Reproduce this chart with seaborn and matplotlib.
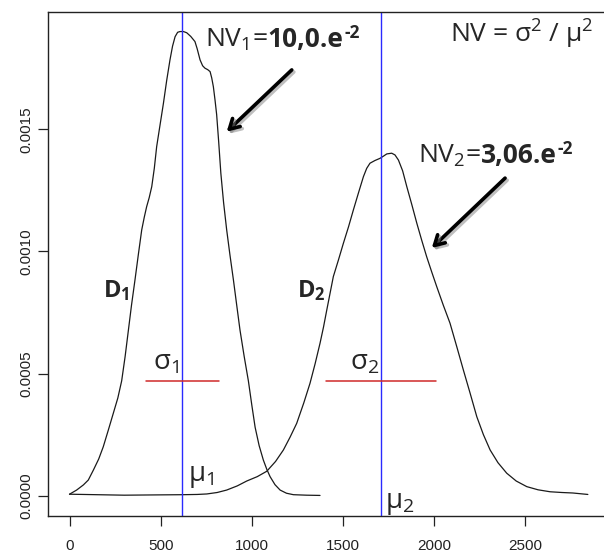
import numpy as np
import pandas as pd
import matplotlib
matplotlib.use("Agg")
import matplotlib.pyplot as plt
import matplotlib.patheffects as pe
import seaborn as sns

# ---- data ----
d1_x = [0, 39, 76, 103, 131, 160, 185, 213, 240, 265, 286, 305, 323, 340, 359, 378, 396, 410,
        423, 437, 451, 465, 478, 497, 515, 533, 551, 565, 579, 593, 606, 625, 643, 665, 688, 700,
        716, 730, 743, 758, 771, 780, 789, 798, 807, 818, 830, 845, 862, 880, 899, 917, 935, 958,
        981, 1000, 1018, 1040, 1063, 1082, 1100, 1127, 1155, 1190, 1228, 1300, 1374]
d1_y = [0.000006, 0.000023, 0.000044, 0.000064, 0.000105, 0.000150, 0.000200, 0.000269, 0.000337,
        0.000400, 0.000470, 0.000570, 0.000678, 0.000780, 0.000883, 0.000990, 0.001088, 0.001140,
        0.001183, 0.001220, 0.001265, 0.001340, 0.001429, 0.001520, 0.001606, 0.001700, 0.001784,
        0.001840, 0.001879, 0.001897, 0.001900, 0.001900, 0.001895, 0.001880, 0.001859, 0.001830,
        0.001784, 0.001760, 0.001750, 0.001744, 0.001736, 0.001710, 0.001674, 0.001620, 0.001560,
        0.001450, 0.001320, 0.001200, 0.001088, 0.000985, 0.000883, 0.000780, 0.000678, 0.000570,
        0.000470, 0.000370, 0.000280, 0.000205, 0.000146, 0.000108, 0.000078, 0.000045, 0.000023,
        0.000010, 0.000004, 0.000002, 0.000001]
d2_x = [0, 150, 300, 450, 620, 700, 753, 810, 862, 920, 972, 1030, 1082, 1130, 1173, 1210, 1246,
        1285, 1319, 1347, 1374, 1393, 1411, 1447, 1475, 1502, 1530, 1557, 1585, 1612, 1630, 1648,
        1675, 1703, 1722, 1740, 1767, 1785, 1804, 1827, 1850, 1878, 1905, 1932, 1959, 1987, 2014,
        2050, 2087, 2124, 2160, 2197, 2234, 2270, 2307, 2350, 2398, 2450, 2508, 2570, 2636, 2700,
        2760, 2843]
d2_y = [0.000006, 0.000004, 0.000002, 0.000003, 0.000004, 0.000005, 0.000007, 0.000013, 0.000023,
        0.000040, 0.000060, 0.000078, 0.000100, 0.000140, 0.000187, 0.000240, 0.000296, 0.000380,
        0.000460, 0.000540, 0.000624, 0.000690, 0.000760, 0.000897, 0.000965, 0.001033, 0.001100,
        0.001170, 0.001240, 0.001306, 0.001340, 0.001361, 0.001372, 0.001381, 0.001390, 0.001399,
        0.001402, 0.001395, 0.001374, 0.001330, 0.001265, 0.001190, 0.001115, 0.001045, 0.000978,
        0.000915, 0.000856, 0.000780, 0.000706, 0.000610, 0.000515, 0.000420, 0.000323, 0.000250,
        0.000187, 0.000135, 0.000092, 0.000060, 0.000037, 0.000024, 0.000016, 0.000013, 0.000011,
        0.000005]

means = [619, 1709]
sigmas = [200, 300]
sigma_level = 0.00047
nv_values = ["10,0.e", "3,06.e"]
nv_exponent = "-2"
x_ticks = [0, 500, 1000, 1500, 2000, 2500]
y_ticks = [0.0, 0.0005, 0.0010, 0.0015]
y_tick_labels = ["0.0000", "0.0005", "0.0010", "0.0015"]

df = pd.DataFrame({
    "x": d1_x + d2_x,
    "y": d1_y + d2_y,
    "curve": ["D1"] * len(d1_x) + ["D2"] * len(d2_x),
})

sns.set_style("ticks")
plt.rcParams["font.family"] = ["Liberation Sans", "DejaVu Sans"]
plt.rcParams["mathtext.fontset"] = "custom"
plt.rcParams["mathtext.rm"] = "Open Sans"
plt.rcParams["mathtext.it"] = "Open Sans:italic"
plt.rcParams["mathtext.bf"] = "Open Sans:bold"
plt.rcParams["lines.solid_joinstyle"] = "round"

fig = plt.figure(figsize=(6.04, 5.52), dpi=100)
ax = fig.add_axes([0.079, 0.0658, 0.932, 0.912])

sns.lineplot(data=df, x="x", y="y", hue="curve", palette=["#1a1a1a", "#1a1a1a"],
             legend=False, sort=False, estimator=None, lw=0.9, ax=ax)

for m, s in zip(means, sigmas):
    ax.axvline(m, color="#2a2aff", lw=1.0)
    ax.plot([m - s, m + s], [sigma_level, sigma_level], color="#d02a2a", lw=1.1)

ax.set_xlim(-119.6, 2968)
ax.set_ylim(-8.19e-5, 0.001979)
ax.set_xticks(x_ticks)
ax.set_xticklabels([str(t) for t in x_ticks])
ax.set_yticks(y_ticks)
ax.set_yticklabels(y_tick_labels, rotation=90, va="center")
ax.tick_params(axis="both", labelsize=11, length=7, width=0.9, color="#222222", labelcolor="#222222")
ax.tick_params(axis="x", pad=10)
ax.tick_params(axis="y", pad=3)
ax.set_xlabel("")
ax.set_ylabel("")
for sp in ax.spines.values():
    sp.set_visible(True)
    sp.set_linewidth(1.0)
    sp.set_color("#222222")

tfam = ["Open Sans", "DejaVu Sans"]
fs_nv = 19

# formula
ax.text(2087, 0.001853, r"NV = σ$^2$ / μ$^2$", fontsize=fs_nv, family=tfam, va="baseline", ha="left")

# NV labels built from pieces (regular name, bold value, raised bold exponent)
fig.canvas.draw()
r = fig.canvas.get_renderer()
for idx, (x0, y0) in enumerate([(743, 0.001837), (1912, 0.001361)]):
    t1 = ax.text(x0, y0, "NV$_%d$=" % (idx + 1), fontsize=fs_nv, family=tfam,
                 va="baseline", ha="left")
    bb1 = t1.get_window_extent(r)
    xd, yd = ax.transData.transform((x0, y0))
    t2 = ax.text(bb1.x1, yd, nv_values[idx], fontsize=fs_nv, family=tfam, fontweight="bold",
                 va="baseline", ha="left", transform=None)
    bb2 = t2.get_window_extent(r)
    ax.text(bb2.x1 + 0.5, yd + 9, nv_exponent, fontsize=12.5, family=tfam, fontweight="bold",
            va="baseline", ha="left", transform=None)

shadow = [pe.SimpleLineShadow(offset=(1.5, -1.5), shadow_color="gray", alpha=0.5), pe.Normal()]
for start, tip in [((1219, 0.001743), (862, 0.00149)), ((2389, 0.0013), (1987, 0.001014))]:
    an = ax.annotate("", xy=tip, xytext=start,
                     arrowprops=dict(arrowstyle="->,head_length=0.7,head_width=0.4", lw=2.6,
                                     color="black", shrinkA=0, shrinkB=0))
    an.arrow_patch.set_path_effects(shadow)

# curve names
ax.text(184, 0.000814, r"$\mathbf{D_1}$", fontsize=17, va="baseline", ha="left")
ax.text(1248, 0.000814, r"$\mathbf{D_2}$", fontsize=17, va="baseline", ha="left")

# sigma / mu labels
ax.text(458, 0.000515, r"σ$_1$", fontsize=20, family=tfam, va="baseline", ha="left")
ax.text(1539, 0.000515, r"σ$_2$", fontsize=20, family=tfam, va="baseline", ha="left")
ax.text(650, 0.00006, r"μ$_1$", fontsize=20, family=tfam, va="baseline", ha="left")
ax.text(1730, -0.00005, r"μ$_2$", fontsize=20, family=tfam, va="baseline", ha="left")

fig.savefig("out.png", dpi=100)
